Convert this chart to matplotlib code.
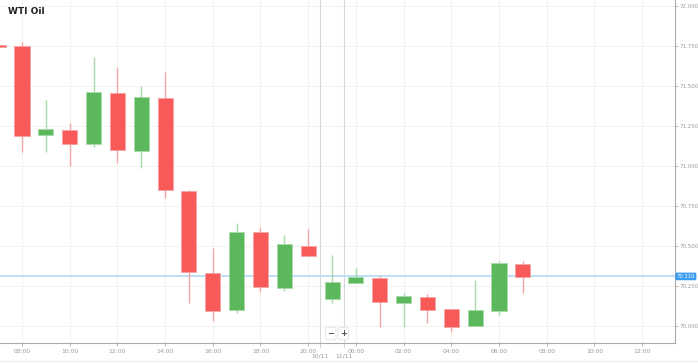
import matplotlib.pyplot as plt
import numpy as np

# hourly candles, gaps removed (index 12 = 20:00, 14 = 00:00 next day)
slots = list(range(-1, 22))
opens = [71.755, 71.748, 71.192, 71.227, 71.136, 71.456, 71.094, 71.425, 70.847,
         70.331, 70.102, 70.589, 70.236, 70.502, 70.167, 70.271, 70.302, 70.146,
         70.183, 70.104, 69.998, 70.096, 70.388]
highs = [71.760, 71.777, 71.411, 71.271, 71.683, 71.611, 71.502, 71.586, 70.850,
         70.489, 70.642, 70.619, 70.571, 70.606, 70.446, 70.361, 70.314, 70.208,
         70.200, 70.104, 70.288, 70.406, 70.406]
lows = [71.740, 71.089, 71.089, 71.002, 71.121, 71.021, 70.989, 70.802, 70.142,
        70.034, 70.079, 70.211, 70.219, 70.436, 70.146, 70.271, 69.997, 69.997,
        70.017, 69.964, 69.998, 70.069, 70.208]
closes = [71.745, 71.188, 71.231, 71.139, 71.461, 71.100, 71.431, 70.848, 70.338,
          70.096, 70.586, 70.242, 70.511, 70.436, 70.277, 70.308, 70.152, 70.186,
          70.098, 69.994, 70.102, 70.392, 70.308]

tick_slots = [0, 2, 4, 6, 8, 10, 12, 14, 16, 18, 20, 22, 24, 26]
tick_labels = ['08:00', '10:00', '12:00', '14:00', '16:00', '18:00', '20:00',
               '00:00', '02:00', '04:00', '06:00', '08:00', '10:00', '12:00']
day_slots = [12.5, 13.5]
day_labels = ['10/11', '11/11']
price_ticks = [70.0, 70.25, 70.5, 70.75, 71.0, 71.25, 71.5, 71.75, 72.0]
last_price = 70.310

RED, RED_W = '#f85a5a', '#f7a3a3'
GREEN, GREEN_W = '#5cb85c', '#a9d8a9'

fig = plt.figure(figsize=(6.98, 3.63), dpi=100)
ax = fig.add_axes([0, 20 / 363, 675 / 698, 343 / 363])

ax.set_xlim(-0.922, 27.38)
ax.set_ylim(69.894, 72.0375)

for t in tick_slots:
    ax.axvline(t, color='#f2f2f2', linewidth=0.8, zorder=0)
for p in price_ticks:
    ax.axhline(p, color='#f2f2f2', linewidth=0.8, zorder=0)
for d in day_slots:
    ax.axvline(d, color='#d8d8d8', linewidth=0.8, zorder=0)

o = np.array(opens)
c = np.array(closes)
up = c >= o
cols = np.where(up, GREEN, RED)
wcols = np.where(up, GREEN_W, RED_W)

ax.vlines(slots, lows, highs, colors=wcols, linewidth=1, zorder=2)
ax.bar(slots, np.maximum(np.abs(c - o), 0.006), bottom=np.minimum(o, c),
       width=0.63, color=cols, edgecolor=wcols, linewidth=0.6, zorder=3)

ax.axhline(last_price, color='#b8dcf5', linewidth=1.3, zorder=1)
ax.text(27.45, last_price, f'{last_price:.3f}', transform=ax.transData,
        fontsize=3.8, color='white', ha='left', va='center', clip_on=False,
        bbox=dict(boxstyle='round,pad=0.25', fc='#3a9cf0', ec='none'))

ax.yaxis.tick_right()
ax.set_yticks(price_ticks)
ax.set_yticklabels([f'{p:.3f}' for p in price_ticks])
ax.tick_params(axis='y', length=2, width=0.5, color='#999999', labelsize=4,
               labelcolor='#999999', pad=1.5)
ax.set_xticks(tick_slots)
ax.set_xticklabels(tick_labels)
ax.tick_params(axis='x', length=2.5, width=0.5, color='#999999', labelsize=4.3,
               labelcolor='#999999', pad=1.5)

for d, lab in zip(day_slots, day_labels):
    ax.plot([d, d], [69.894, 69.86], color='#999999', linewidth=0.6,
            linestyle=(0, (1, 1)), clip_on=False)
    ax.text(d, 69.83, lab, fontsize=4.3, color='#999999', ha='center', va='top')

for sym, xs in [('−', 12.95), ('+', 13.47)]:
    ax.text(xs, 69.952, sym, fontsize=6, color='#555555', ha='center', va='center',
            fontweight='bold',
            bbox=dict(boxstyle='round,pad=0.2', fc='white', ec='#e4e4e4', lw=0.6))

for side in ['top', 'left']:
    ax.spines[side].set_visible(False)
ax.spines['right'].set_color('#aaaaaa')
ax.spines['bottom'].set_color('#aaaaaa')

fig.text(8 / 698, 1 - 12 / 363, 'WTI Oil', fontsize=6.5, fontweight='bold',
         color='#222222', ha='left', va='center')
fig.add_artist(plt.Line2D([0, 1], [1 - 361 / 363, 1 - 361 / 363],
                          color='#eeeeee', linewidth=0.8))

fig.savefig('out.png', dpi=100)
